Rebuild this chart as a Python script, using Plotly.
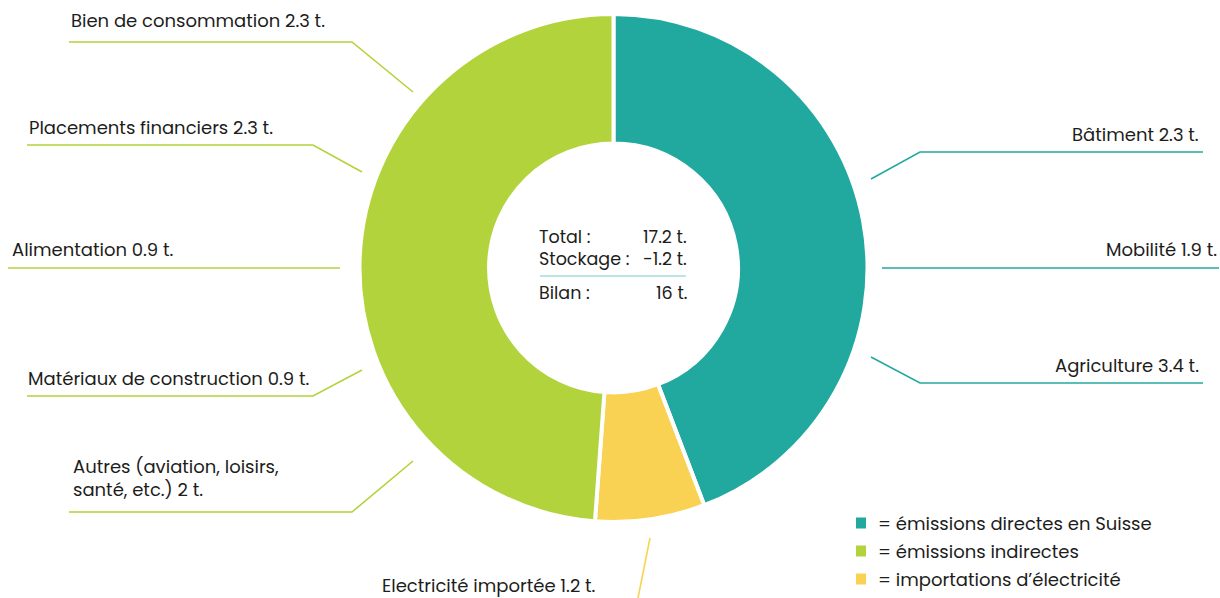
import plotly.graph_objects as go

# ---------------------------------------------------------------------------
# Data
# ---------------------------------------------------------------------------

GROUPS = ["directes", "electricite", "indirectes"]
GROUP_LEGEND = {
    "directes": "= émissions directes en Suisse",
    "indirectes": "= émissions indirectes",
    "electricite": "= importations d’électricité",
}
GROUP_COLORS = {
    "directes": "#22a99f",
    "indirectes": "#b2d33b",
    "electricite": "#f9d253",
}

CATEGORIES = [
    "Bâtiment", "Mobilité", "Agriculture",
    "Electricité importée",
    "Autres (aviation, loisirs,<br>santé, etc.)", "Matériaux de construction",
    "Alimentation", "Placements financiers", "Bien de consommation",
]
CATEGORY_VALUES = [2.3, 1.9, 3.4, 1.2, 2.0, 0.9, 0.9, 2.3, 2.3]
CATEGORY_GROUP = [
    "directes", "directes", "directes",
    "electricite",
    "indirectes", "indirectes", "indirectes", "indirectes", "indirectes",
]
STOCKAGE = -1.2

# ---------------------------------------------------------------------------
# Layout helpers (pixel positions of the annotations / leader lines)
# ---------------------------------------------------------------------------

W, H = 1220, 598
INK = "#1d1d1b"
FONT = "Poppins, Open Sans, sans-serif"
FS = 18


def px(x, y):
    return x / W, 1 - y / H


# text anchor (x, y, xanchor) and leader line points, per category
LABEL_LAYOUT = [
    ((1201, 135, "right"), [(1203, 152), (920, 152), (871, 179)]),
    ((1219, 250, "right"), [(1219, 268), (882, 268)]),
    ((1201, 365, "right"), [(1203, 383), (920, 383), (871, 357)]),
    ((380, 585, "left"), [(638, 598), (650, 538)]),
    ((71, 478, "left"), [(69, 512), (352, 512), (413, 461)]),
    ((26, 378, "left"), [(27, 396), (313, 396), (362, 370)]),
    ((10, 250, "left"), [(8, 268), (340, 268)]),
    ((27, 128, "left"), [(27, 145), (313, 145), (362, 172)]),
    ((69, 21, "left"), [(69, 42), (352, 42), (413, 92)]),
]


def fmt(v):
    s = f"{v:.1f}"
    return s[:-2] if s.endswith(".0") else s


# ---------------------------------------------------------------------------
# Figure
# ---------------------------------------------------------------------------

group_totals = [
    sum(v for v, g in zip(CATEGORY_VALUES, CATEGORY_GROUP) if g == grp)
    for grp in GROUPS
]

x0, y1 = px(359, 14)
x1, y0 = px(868, 522)

fig = go.Figure(
    go.Pie(
        labels=GROUPS,
        values=group_totals,
        hole=0.49,
        sort=False,
        direction="clockwise",
        rotation=0,
        textinfo="none",
        hoverinfo="label+value",
        marker=dict(colors=[GROUP_COLORS[g] for g in GROUPS],
                    line=dict(color="white", width=4)),
        domain=dict(x=[x0, x1], y=[y0, y1]),
        showlegend=False,
    )
)

annotations = []
shapes = []

for name, value, grp, (txt, pts) in zip(CATEGORIES, CATEGORY_VALUES, CATEGORY_GROUP, LABEL_LAYOUT):
    tx, ty, anchor = txt
    ax, ay = px(tx, ty)
    annotations.append(dict(
        x=ax, y=ay, xref="paper", yref="paper", xanchor=anchor, yanchor="middle",
        text=f"{name} {fmt(value)} t.", showarrow=False, align=anchor,
        font=dict(size=FS, color=INK, family=FONT),
    ))
    path = "M " + " L ".join(f"{px(x, y)[0]},{px(x, y)[1]}" for x, y in pts)
    shapes.append(dict(type="path", path=path, xref="paper", yref="paper",
                       line=dict(color=GROUP_COLORS[grp], width=1.6)))

# centre summary
total = sum(CATEGORY_VALUES)
bilan = total + STOCKAGE
summary = [("Total :", f"{fmt(total)} t.", 237),
           ("Stockage :", f"{fmt(STOCKAGE)} t.".replace("-", "−"), 259),
           ("Bilan :", f"{fmt(bilan)} t.", 293)]
for left, right, y in summary:
    lx, ly = px(537, y)
    rx, _ = px(689, y)
    annotations.append(dict(x=lx, y=ly, xref="paper", yref="paper", xanchor="left",
                            yanchor="middle", text=left, showarrow=False,
                            font=dict(size=17.5, color=INK, family=FONT)))
    annotations.append(dict(x=rx, y=ly, xref="paper", yref="paper", xanchor="right",
                            yanchor="middle", text=right, showarrow=False,
                            font=dict(size=17.5, color=INK, family=FONT)))
sx0, sy = px(540, 276)
sx1, _ = px(686, 276)
shapes.append(dict(type="line", x0=sx0, x1=sx1, y0=sy, y1=sy, xref="paper", yref="paper",
                   line=dict(color="#a4dcd8", width=1.5)))

# legend
for i, grp in enumerate(["directes", "indirectes", "electricite"]):
    cy = 523 + 28 * i
    bx0, by0 = px(856, cy - 5.5)
    bx1, by1 = px(866, cy + 5.5)
    shapes.append(dict(type="rect", x0=bx0, x1=bx1, y0=by1, y1=by0, xref="paper", yref="paper",
                       fillcolor=GROUP_COLORS[grp], line=dict(width=0)))
    lx, ly = px(876, cy)
    annotations.append(dict(x=lx, y=ly, xref="paper", yref="paper", xanchor="left",
                            yanchor="middle", text=GROUP_LEGEND[grp], showarrow=False,
                            font=dict(size=FS, color=INK, family=FONT)))

fig.update_layout(
    width=W, height=H,
    margin=dict(l=0, r=0, t=0, b=0),
    paper_bgcolor="white",
    plot_bgcolor="white",
    annotations=annotations,
    shapes=shapes,
    font=dict(family=FONT, color=INK),
)

# the page body has a default 8px margin; drop it so the figure fills the window
fig.write_html("out.html", config={"displayModeBar": False},
               post_script="document.body.style.margin = '0';")
